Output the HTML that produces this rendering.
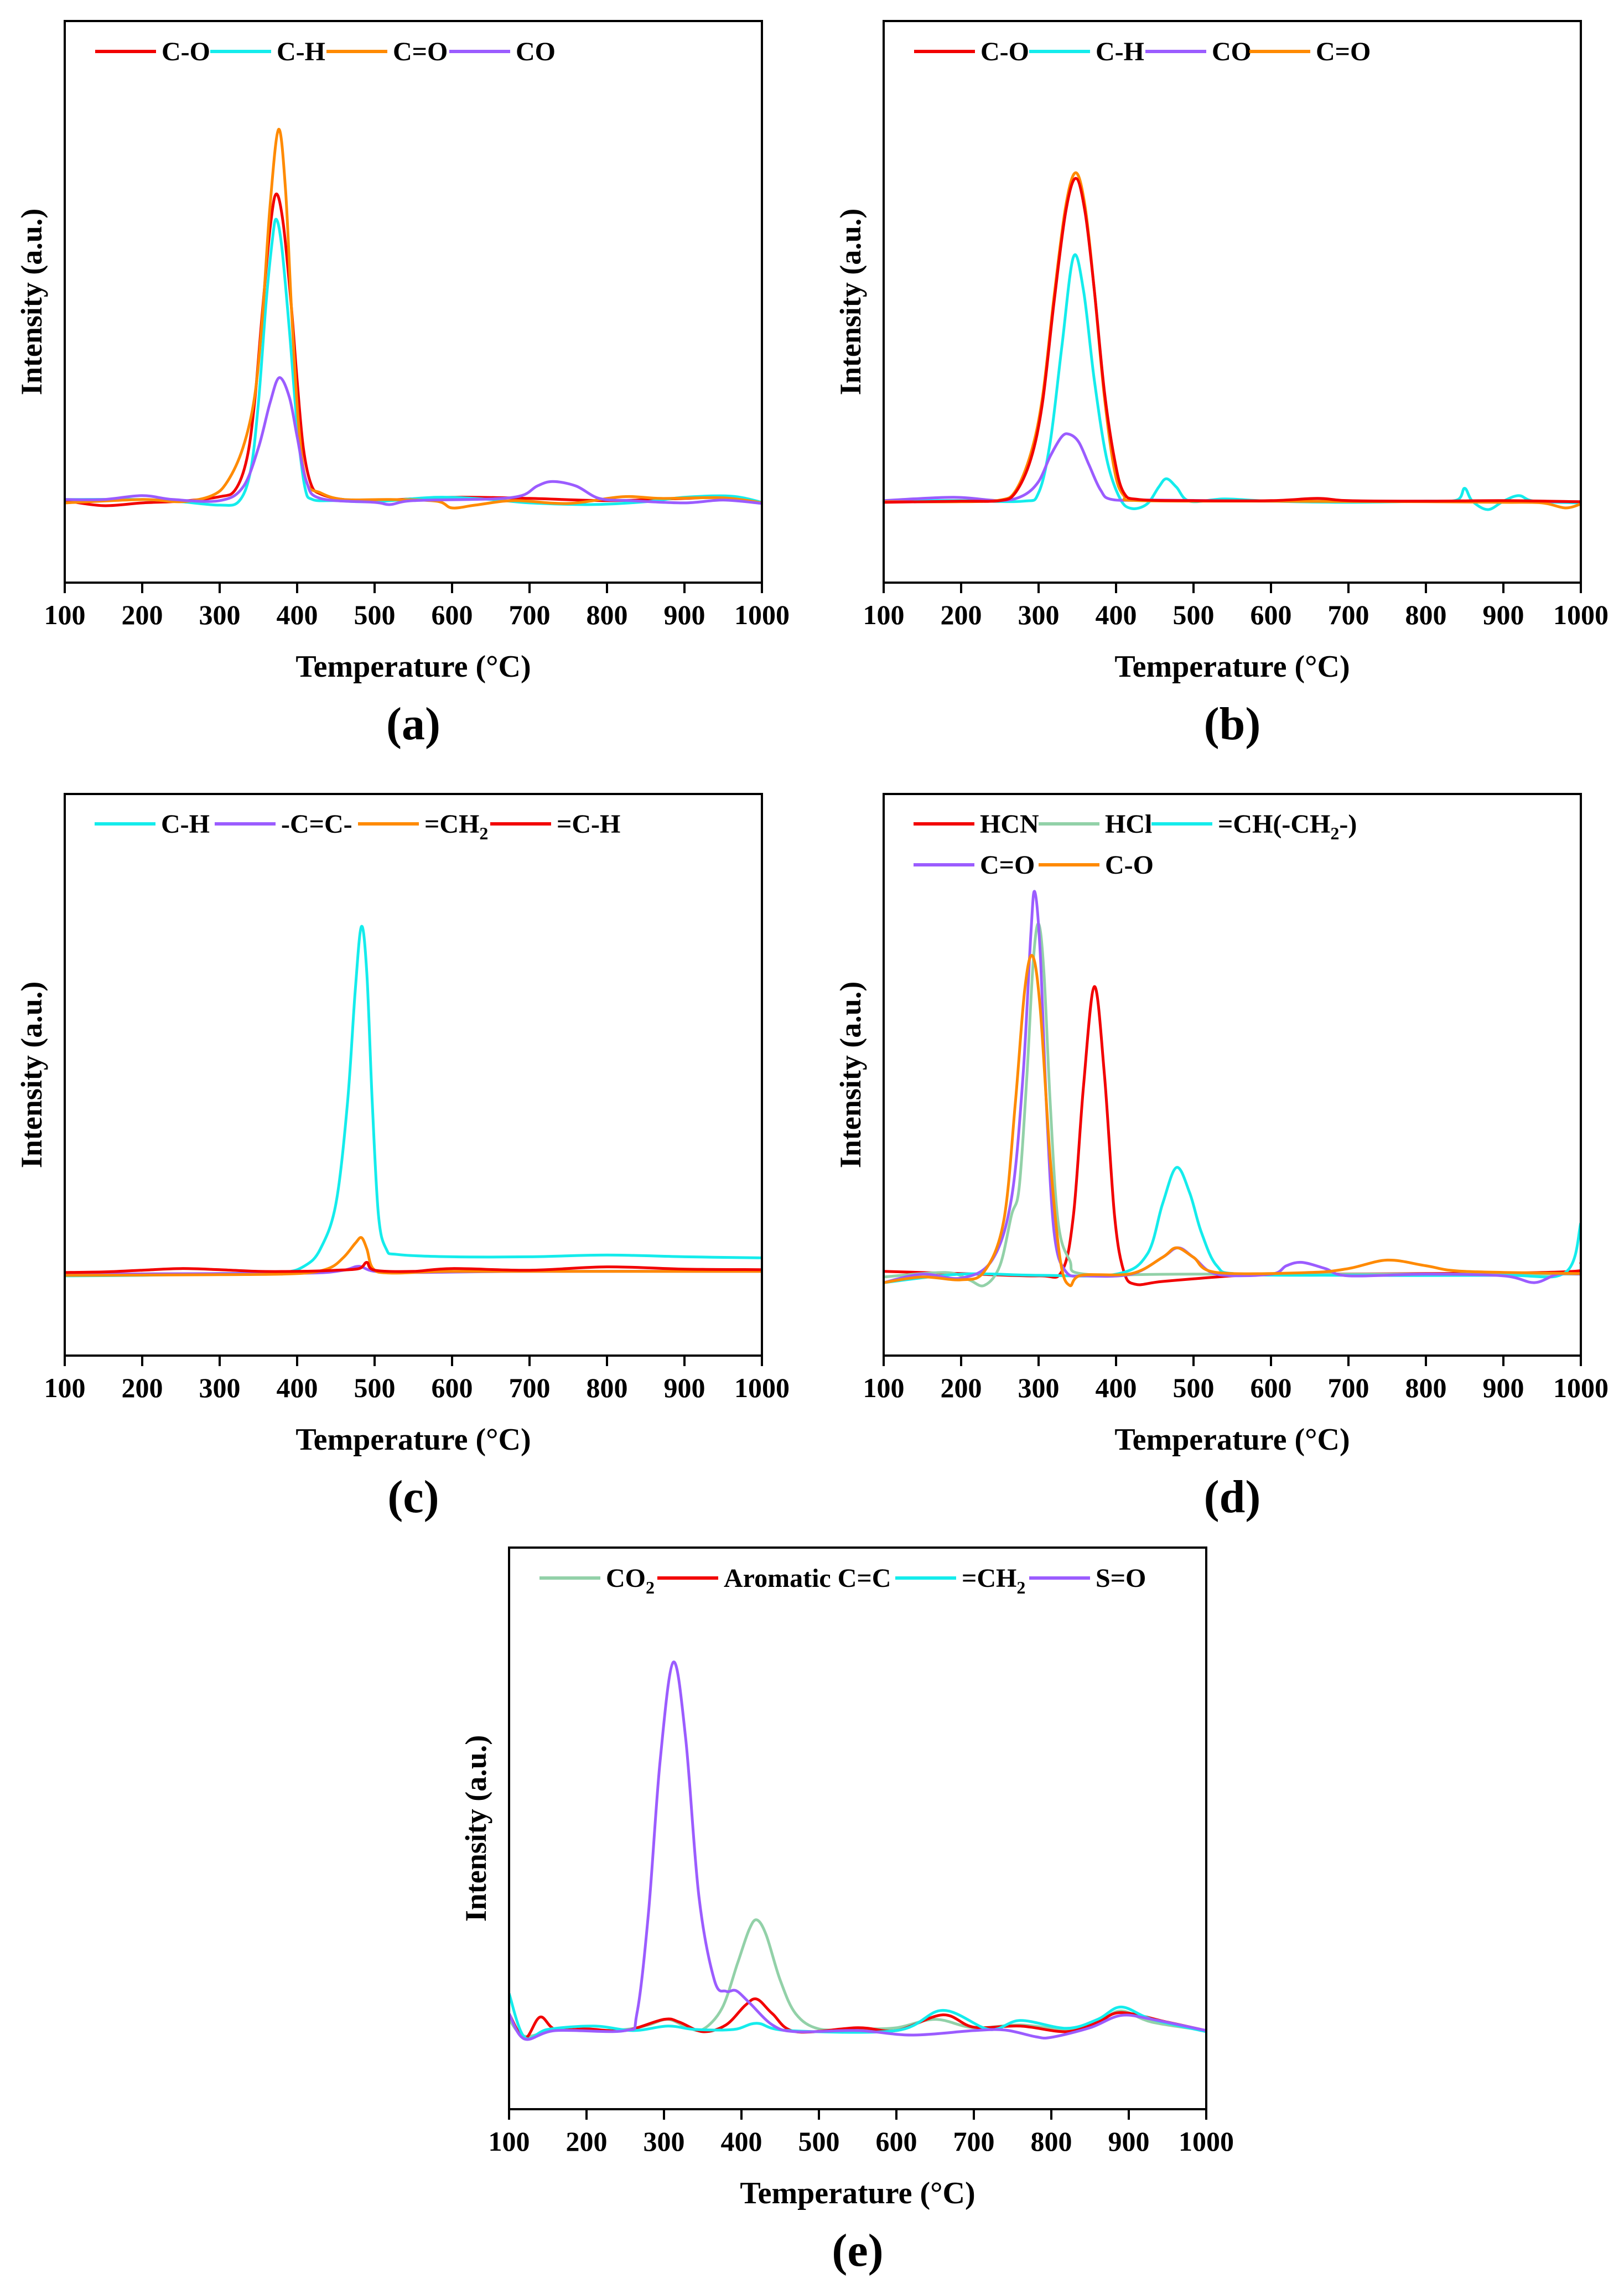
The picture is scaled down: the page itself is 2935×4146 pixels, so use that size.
<!DOCTYPE html>
<html><head><meta charset="utf-8"><style>
html,body{margin:0;padding:0;background:#fff}
svg{display:block}
text{font-family:"Liberation Serif","Times New Roman",serif;font-weight:bold;fill:#000}
</style></head><body>
<svg id="fig" width="2935" height="4146" viewBox="0 0 2935 4146" xmlns="http://www.w3.org/2000/svg"></svg>
<script>
const xTicks=[100,200,300,400,500,600,700,800,900,1000];
// Panel (a)
const aCO=[[100,14.6],[150,13.7],[200,14.2],[250,14.5],[300,15.3],[320,16.5],[335,22],[345,32],[355,48],[365,63],[373,69.2],[382,64],[392,50],[400,36],[408,24],[418,17.5],[430,15.8],[460,14.8],[500,14.6],[600,15.2],[700,15],[800,14.6],[900,15],[950,15.2],[1000,14.3]];
const aCH=[[100,14.8],[200,14.8],[250,14.4],[300,13.8],[325,14.5],[340,20],[350,32],[360,50],[368,61],[373,64.7],[380,60],[390,45],[400,28],[410,17],[420,14.8],[450,14.6],[500,14.4],[580,15.2],[650,14.8],[700,14.2],[780,13.9],[850,14.4],[900,15.2],[960,15.4],[1000,14.3]];
const aCdO=[[100,14.2],[200,14.8],[250,14.4],[290,15.5],[310,18],[330,24],[345,33],[355,47],[365,67],[376,80.7],[385,70],[393,48],[402,28],[412,18],[430,16],[460,14.8],[520,14.8],[580,14.5],[600,13.3],[630,13.8],[680,14.6],[750,14.1],[820,15.3],[870,15],[950,15.1],[1000,14.2]];
const aCOgas=[[100,14.8],[150,14.8],[200,15.5],[240,14.8],[300,14.6],[330,17],[350,24],[365,32],[377,36.5],[390,33],[400,26],[412,18],[430,15],[500,14.3],[520,13.9],[550,14.6],[650,14.9],[690,15.5],[710,17.2],[730,18],[760,17.2],[790,15],[830,14.6],[900,14.2],[950,14.7],[1000,14.1]];
// Panel (b)
const bCO=[[100,14.3],[200,14.5],[250,14.6],[270,16],[290,22],[305,32],[320,50],[335,66],[348,72],[360,66],[372,52],[385,34],[398,22],[410,16],[430,14.8],[500,14.6],[600,14.6],[660,15],[700,14.6],[800,14.5],[900,14.6],[1000,14.4]];
const bCdO=[[100,14.4],[200,14.4],[250,14.7],[270,16.3],[290,23],[305,33],[320,51],[335,67],[348,73],[360,67],[372,52],[385,33],[398,20],[410,15.5],[430,14.6],[600,14.5],[800,14.4],[900,14.3],[950,14.2],[980,13.3],[1000,14]];
const bCH=[[100,14.6],[200,14.6],[280,14.5],[300,16],[315,25],[330,42],[345,58],[358,52],[372,36],[388,22],[405,15],[420,13.2],[440,14],[455,17],[465,18.5],[478,17],[495,14.5],[540,14.9],[600,14.5],[700,14.3],[800,14.5],[840,14.7],[850,16.8],[860,14.5],[880,13],[900,14.5],[920,15.5],[940,14.5],[1000,14.2]];
const bCOgas=[[100,14.6],[190,15.2],[250,14.6],[280,15.5],[300,18],[315,22.5],[330,26],[340,26.4],[352,25],[365,21],[380,16.5],[395,14.8],[450,14.7],[600,14.5],[800,14.5],[1000,14.4]];
// Panel (c)
const cCH=[[100,14.2],[200,14.3],[300,14.6],[380,14.8],[410,16],[430,19],[450,27],[465,45],[475,65],[483,76.4],[490,68],[497,45],[505,25],[515,19],[530,18],[600,17.6],[700,17.6],[800,17.9],[900,17.6],[1000,17.4]];
const cCC=[[100,14.5],[300,14.6],[420,14.7],[460,15.2],[480,15.9],[500,15],[550,14.8],[700,15],[1000,15]];
const cCH2=[[100,14.3],[300,14.4],[400,14.6],[440,15.5],[460,17.5],[475,20],[483,21],[490,19],[498,15.5],[520,14.7],[600,15],[800,15],[1000,15]];
const cECH=[[100,14.8],[150,14.9],[200,15.2],[250,15.5],[300,15.3],[350,15],[400,15],[450,15.2],[480,15.5],[490,16.6],[500,15.2],[550,15],[600,15.5],[700,15.2],[800,15.8],[900,15.4],[1000,15.3]];
// Panel (d)
const dHCN=[[100,15],[200,14.6],[300,14.2],[330,15],[345,25],[358,48],[372,65.7],[385,50],[398,25],[410,15],[425,12.7],[460,13.2],[550,14.2],[600,14.5],[800,14.6],[990,15],[1000,16.5]];
const dHCl=[[100,14],[180,14.8],[210,13.5],[230,12.5],[250,16],[265,25],[275,30],[285,50],[293,70],[300,76.9],[307,68],[315,45],[325,24],[340,17],[360,14.5],[500,14.5],[1000,14.5]];
const dCHCH2=[[100,13],[200,14.5],[300,14.3],[400,14.5],[440,18],[460,27],[478,33.5],[495,29],[510,22],[530,16],[560,14.5],[700,14.3],[900,14.3],[980,14.8],[1000,23.6]];
const dCdO=[[100,13],[150,14.5],[200,13.8],[240,17],[265,28],[280,50],[290,75],[295,82.6],[302,72],[310,45],[320,22],[335,15],[360,14.2],[420,14.5],[460,17.5],[480,19.2],[500,17.5],[530,14.5],[600,14.5],[620,16],[640,16.6],[670,15.5],[700,14.2],[800,14.5],[900,14.2],[940,13],[970,14.5],[1000,14.5]];
const dCO=[[100,13],[150,14],[200,13.5],[230,15],[255,24],[270,45],[282,65],[292,71.2],[302,62],[315,35],[328,17],[340,12.5],[355,14.3],[420,14.6],[460,17.5],[478,19.2],[500,17.5],[530,14.8],[650,14.8],[700,15.5],[750,17],[800,16],[850,15],[1000,14.6]];
// Panel (e)
const eCO2=[[100,16],[120,13],[160,14.2],[200,14],[250,14.2],[280,15],[305,16],[330,14.6],[350,14.2],[375,18],[395,26],[410,32],[420,33.7],[432,31],[450,23],[470,17],[500,14.3],[550,14.3],[600,14.5],[650,16],[700,14.5],[760,15],[820,14.2],[860,15.5],[890,17.5],[930,15.5],[1000,14]];
const eArom=[[100,17],[120,12.6],[140,16.4],[160,14.2],[200,14.3],[250,14],[300,16],[320,15.5],[350,13.8],[380,15],[405,18.5],[420,19.6],[440,17],[470,13.8],[550,14.5],[600,14],[660,16.8],[700,14.6],[760,14.8],[820,13.8],[860,15.5],[890,17.2],[950,15.5],[1000,14]];
const eCH2=[[100,20.6],[120,12.8],[150,14.2],[210,14.8],[260,14],[305,14.8],[340,14.2],[390,14.2],[420,15.3],[460,14],[600,14],[660,17.6],[720,14.2],[760,15.8],[820,14.4],[860,16],[890,18.2],[930,16],[1000,13.8]];
const eSO=[[100,17],[120,12.5],[160,14],[250,14],[265,17],[280,35],[295,62],[312,79.6],[328,66],[345,38],[365,23],[380,21],[393,21.1],[410,19],[440,15],[470,13.8],[550,14],[620,13.2],[700,14],[740,14.1],[780,12.9],[800,12.8],[850,14.5],[890,16.7],[930,16],[1000,14]];

const RED="#f20000",CYAN="#14ecec",ORANGE="#ff8a00",PURPLE="#9b5cff",GREEN="#92d1a8";
const NS="http://www.w3.org/2000/svg";
const svg=document.getElementById('fig');
function mk(tag,attrs,parent){const e=document.createElementNS(NS,tag);for(const k in attrs)e.setAttribute(k,attrs[k]);(parent||svg).appendChild(e);return e;}
function smoothPath(pts){
  let d="M"+pts[0][0].toFixed(1)+","+pts[0][1].toFixed(1);
  for(let i=0;i<pts.length-1;i++){
    const p0=pts[Math.max(0,i-1)],p1=pts[i],p2=pts[i+1],p3=pts[Math.min(pts.length-1,i+2)];
    const c1x=p1[0]+(p2[0]-p0[0])/6,c1y=p1[1]+(p2[1]-p0[1])/6;
    const c2x=p2[0]-(p3[0]-p1[0])/6,c2y=p2[1]-(p3[1]-p1[1])/6;
    d+="C"+c1x.toFixed(1)+","+c1y.toFixed(1)+" "+c2x.toFixed(1)+","+c2y.toFixed(1)+" "+p2[0].toFixed(1)+","+p2[1].toFixed(1);
  }
  return d;
}
function panel(id,L,T,label,series,legend){
  const W=1260,H=1015;
  const g=mk('g',{});
  
  
  const xs=v=>L+(v-100)/900*W, ys=v=>T+H-v/100*H;
  const clip=mk('clipPath',{id:'clip-'+id},g);
  mk('rect',{x:L,y:T,width:W,height:H},clip);
  const sg=mk('g',{'clip-path':'url(#clip-'+id+')'},g);
  series.forEach(s=>{
    const p=mk('path',{d:smoothPath(s.data.map(q=>[xs(q[0]),ys(q[1])])),fill:'none',stroke:s.color,'stroke-width':5,'stroke-linejoin':'round'},sg);
    
    
  });
  const fr=mk('rect',{x:L,y:T,width:W,height:H,fill:'none',stroke:'#000','stroke-width':4},g);
  
  
  xTicks.forEach(t=>{
    const tk=mk('line',{x1:xs(t),x2:xs(t),y1:T+H,y2:T+H+19,stroke:'#000','stroke-width':4},g);
    
    
    const tl=mk('text',{x:xs(t),y:T+H+75,'text-anchor':'middle','font-size':50},g);
    tl.textContent=t;
    
    
  });
  const xt=mk('text',{x:L+W/2,y:T+H+170,'text-anchor':'middle','font-size':56},g);
  xt.textContent="Temperature (°C)";
  
  
  const yt=mk('text',{x:0,y:0,'text-anchor':'middle','font-size':54,transform:'translate('+(L-42)+','+(T+H/2)+') rotate(-90)'},g);
  yt.textContent="Intensity (a.u.)";
  
  
  const pl=mk('text',{x:L+W/2,y:T+H+283,'text-anchor':'middle','font-size':84},g);
  pl.textContent=label;
  
  
  legend.forEach(it=>{
    const lg=mk('g',{},g);
    
    
    mk('line',{x1:it.x,x2:it.x+110,y1:it.y,y2:it.y,stroke:it.color,'stroke-width':6},lg);
    const tx=mk('text',{x:it.x+120,y:it.y+16,'font-size':48},lg);
    if(it.sub){
      const parts=it.text.split('_');
      tx.appendChild(document.createTextNode(parts[0]));
      const ts=mk('tspan',{'font-size':32,dy:12},tx);ts.textContent='2';
      if(parts[1]){const t2=mk('tspan',{dy:-12},tx);t2.textContent=parts[1];}
    } else tx.textContent=it.text;
  });
}
panel('a',117,38,'(a)',[
 {name:'c-o',color:RED,data:aCO},{name:'c-h',color:CYAN,data:aCH},{name:'c=o',color:ORANGE,data:aCdO},{name:'co',color:PURPLE,data:aCOgas}
 ].map(s=>s).sort((p,q)=>0),[
 {x:172,y:93,color:RED,text:'C-O'},{x:380,y:93,color:CYAN,text:'C-H'},{x:590,y:93,color:ORANGE,text:'C=O'},{x:812,y:93,color:PURPLE,text:'CO'}]);
panel('b',1597,38,'(b)',[
 {name:'c-h',color:CYAN,data:bCH},{name:'co',color:PURPLE,data:bCOgas},{name:'c=o',color:ORANGE,data:bCdO},{name:'c-o',color:RED,data:bCO}],[
 {x:1652,y:93,color:RED,text:'C-O'},{x:1860,y:93,color:CYAN,text:'C-H'},{x:2070,y:93,color:PURPLE,text:'CO'},{x:2258,y:93,color:ORANGE,text:'C=O'}]);
panel('c',117,1435,'(c)',[
 {name:'c-h',color:CYAN,data:cCH},{name:'c-triple-c',color:PURPLE,data:cCC},{name:'ch2',color:ORANGE,data:cCH2},{name:'eq-c-h',color:RED,data:cECH}],[
 {x:171,y:1489,color:CYAN,text:'C-H'},{x:388,y:1489,color:PURPLE,text:'-C=C-'},{x:647,y:1489,color:ORANGE,text:'=CH_',sub:true},{x:886,y:1489,color:RED,text:'=C-H'}]);
panel('d',1597,1435,'(d)',[
 {name:'hcn',color:RED,data:dHCN},{name:'hcl',color:GREEN,data:dHCl},{name:'ch-ch2',color:CYAN,data:dCHCH2},{name:'c=o',color:PURPLE,data:dCdO},{name:'c-o',color:ORANGE,data:dCO}],[
 {x:1651,y:1489,color:RED,text:'HCN'},{x:1877,y:1489,color:GREEN,text:'HCl'},{x:2081,y:1489,color:CYAN,text:'=CH(-CH_-)',sub:true},
 {x:1651,y:1563,color:PURPLE,text:'C=O'},{x:1877,y:1563,color:ORANGE,text:'C-O'}]);
panel('e',920,2797,'(e)',[
 {name:'co2',color:GREEN,data:eCO2},{name:'aromatic-c=c',color:RED,data:eArom},{name:'ch2',color:CYAN,data:eCH2},{name:'s=o',color:PURPLE,data:eSO}],[
 {x:975,y:2852,color:GREEN,text:'CO_',sub:true},{x:1188,y:2852,color:RED,text:'Aromatic C=C'},{x:1618,y:2852,color:CYAN,text:'=CH_',sub:true},{x:1860,y:2852,color:PURPLE,text:'S=O'}]);
</script>
</body></html>
